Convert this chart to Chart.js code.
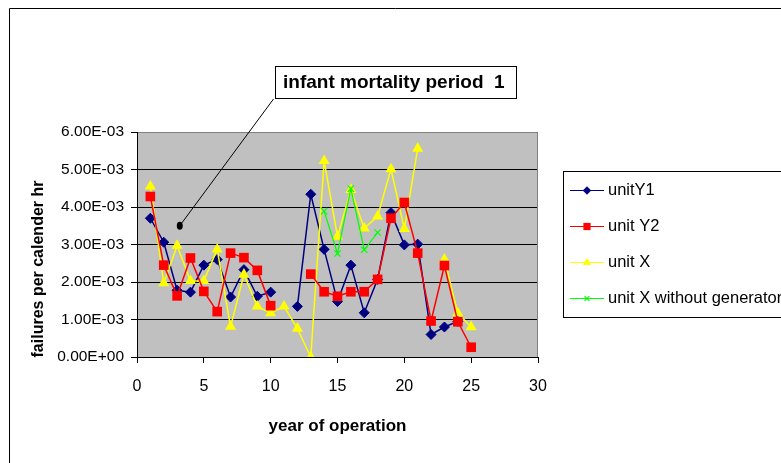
<!DOCTYPE html>
<html>
<head>
<meta charset="utf-8">
<title>Failures per calendar hour by year of operation</title>
<script src="https://cdn.jsdelivr.net/npm/chart.js@4.4.1/dist/chart.umd.min.js"></script>
<style>
  html, body { margin: 0; padding: 0; background: #ffffff; }
  #wrap { width: 781px; height: 463px; position: relative; }
</style>
</head>
<body>
<div id="wrap"><canvas id="c" width="781" height="463"></canvas></div>
<script>
// Year of operation
const years = [1, 2, 3, 4, 5, 6, 7, 8, 9, 10, 11, 12, 13, 14, 15, 16, 17, 18, 19, 20, 21, 22, 23, 24, 25];

// Failures per calendar hour for each unit (null = no record that year)
const unitY1 = [3.70e-3, 3.06e-3, 1.78e-3, 1.73e-3, 2.45e-3, 2.60e-3, 1.60e-3, 2.33e-3, 1.62e-3, 1.73e-3,
                null, 1.35e-3, 4.34e-3, 2.87e-3, 1.48e-3, 2.45e-3, 1.18e-3, 2.07e-3, 3.85e-3, 2.99e-3,
                3.01e-3, 0.60e-3, 0.80e-3, 0.95e-3, null];
const unitY2 = [4.28e-3, 2.45e-3, 1.63e-3, 2.64e-3, 1.75e-3, 1.21e-3, 2.77e-3, 2.65e-3, 2.31e-3, 1.37e-3,
                null, null, 2.21e-3, 1.74e-3, 1.62e-3, 1.74e-3, 1.74e-3, 2.07e-3, 3.70e-3, 4.12e-3,
                2.77e-3, 0.96e-3, 2.44e-3, 0.94e-3, 0.26e-3];
const unitX = [4.55e-3, 1.97e-3, 2.97e-3, 2.03e-3, 2.03e-3, 2.87e-3, 0.81e-3, 2.20e-3, 1.35e-3, 1.17e-3,
               1.35e-3, 0.76e-3, 0.00, 5.23e-3, 3.21e-3, 4.46e-3, 3.43e-3, 3.75e-3, 5.01e-3, 3.42e-3,
               5.56e-3, null, 2.60e-3, 1.17e-3, 0.80e-3];
const unitXNoGen = [null, null, null, null, null, null, null, null, null, null,
                    null, null, null, 3.89e-3, 2.76e-3, 4.49e-3, 2.86e-3, 3.32e-3, null, null,
                    null, null, null, null, null];

// Axis ticks
const xTicks = [0, 5, 10, 15, 20, 25, 30];
const yTicks = [0, 1e-3, 2e-3, 3e-3, 4e-3, 5e-3, 6e-3];

// Callout pointing at the early-life failure region
const calloutText = 'infant mortality period  1';
const calloutPoint = { x: 3.2, y: 3.5e-3 };

const FONT = '"Liberation Sans", Arial, Helvetica, sans-serif';

function sci(v) {
  if (Math.abs(v) < 1e-12) return '0.00E+00';
  const e = Math.floor(Math.log10(Math.abs(v)) + 1e-9);
  const m = v / Math.pow(10, e);
  return m.toFixed(2) + 'E' + (e < 0 ? '-' : '+') + String(Math.abs(e)).padStart(2, '0');
}

function pts(arr) {
  return years.map((yr, i) => ({ x: yr, y: arr[i] }));
}

const datasets = [
  { label: 'unitY1', data: pts(unitY1), borderColor: '#000080', backgroundColor: '#000080',
    pointStyle: 'rectRot', pointRadius: 5, borderWidth: 1.5, pointBorderWidth: 1, order: 3 },
  { label: 'unit Y2', data: pts(unitY2), borderColor: '#ff0000', backgroundColor: '#ff0000',
    pointStyle: 'rect', pointRadius: 6.8, borderWidth: 1.5, pointBorderWidth: 0, order: 1 },
  { label: 'unit X', data: pts(unitX), borderColor: '#ffff00', backgroundColor: '#ffff00',
    pointStyle: 'triangle', pointRadius: 6.4, borderWidth: 1.5, pointBorderWidth: 0, order: 2 },
  { label: 'unit X without generator', data: pts(unitXNoGen), borderColor: '#00ff00', backgroundColor: '#00ff00',
    pointStyle: 'crossRot', pointRadius: 4.5, borderWidth: 1.2, pointBorderWidth: 1.2, order: 0 }
];

// Frame, plot-area fill, titles, callout and legend
const decor = {
  id: 'decor',
  beforeDraw(chart) {
    const ctx = chart.ctx, a = chart.chartArea;
    ctx.save();
    ctx.fillStyle = '#ffffff';
    ctx.fillRect(0, 0, chart.width, chart.height);
    // outer frame
    ctx.strokeStyle = '#000000';
    ctx.lineWidth = 1;
    ctx.beginPath();
    ctx.moveTo(9.5, chart.height + 1);
    ctx.lineTo(9.5, 8.5);
    ctx.lineTo(chart.width + 1, 8.5);
    ctx.stroke();
    // plot area
    ctx.fillStyle = '#c0c0c0';
    ctx.fillRect(a.left, a.top, a.right - a.left, a.bottom - a.top);
    ctx.restore();
  },
  beforeDatasetsDraw(chart) {
    const ctx = chart.ctx, a = chart.chartArea;
    ctx.save();
    ctx.strokeStyle = '#808080';
    ctx.lineWidth = 1;
    ctx.beginPath();
    ctx.moveTo(Math.round(a.right) - 0.5, a.top);
    ctx.lineTo(Math.round(a.right) - 0.5, a.bottom);
    ctx.stroke();
    ctx.restore();
  },
  afterDraw(chart) {
    const ctx = chart.ctx, a = chart.chartArea;
    const xs = chart.scales.x, ys = chart.scales.y;
    ctx.save();
    ctx.fillStyle = '#000000';

    // axis titles
    ctx.font = 'bold 17px ' + FONT;
    ctx.textAlign = 'center';
    ctx.textBaseline = 'alphabetic';
    ctx.fillText('year of operation', (a.left + a.right) / 2, 431);

    ctx.save();
    ctx.translate(43, 269);
    ctx.rotate(-Math.PI / 2);
    ctx.font = 'bold 16px ' + FONT;
    ctx.fillText('failures per calender hr', 0, 0);
    ctx.restore();

    // callout
    const px = xs.getPixelForValue(calloutPoint.x);
    const py = ys.getPixelForValue(calloutPoint.y);
    ctx.strokeStyle = '#000000';
    ctx.lineWidth = 1;
    ctx.beginPath();
    ctx.moveTo(273.5, 99);
    ctx.lineTo(px, py);
    ctx.stroke();
    ctx.beginPath();
    ctx.ellipse(px, py, 3, 4, 0, 0, Math.PI * 2);
    ctx.fill();

    ctx.fillStyle = '#ffffff';
    ctx.fillRect(275.5, 66.5, 241, 32);
    ctx.strokeRect(275.5, 66.5, 241, 32);
    ctx.fillStyle = '#000000';
    ctx.font = 'bold 19px ' + FONT;
    ctx.textAlign = 'left';
    ctx.fillText(calloutText, 283, 88);

    // legend
    ctx.fillStyle = '#ffffff';
    ctx.fillRect(563.5, 171.5, 240, 146);
    ctx.strokeRect(563.5, 171.5, 240, 146);
    ctx.font = '16.5px ' + FONT;
    ctx.textBaseline = 'middle';
    chart.data.datasets.forEach((ds, i) => {
      const y = 190 + i * 36;
      ctx.strokeStyle = ds.borderColor;
      ctx.lineWidth = 1.2;
      ctx.beginPath();
      ctx.moveTo(570, y + 0.5);
      ctx.lineTo(604, y + 0.5);
      ctx.stroke();
      ctx.fillStyle = ds.backgroundColor;
      ctx.strokeStyle = ds.borderColor;
      ctx.lineWidth = ds.pointBorderWidth || 1;
      Chart.helpers.drawPoint(ctx, {
        pointStyle: ds.pointStyle,
        radius: ds.pointRadius * 0.75,
        rotation: 0,
        borderWidth: ds.pointBorderWidth
      }, 587, y + 0.5);
      ctx.fillStyle = '#000000';
      ctx.fillText(ds.label, 608, y);
    });
    ctx.restore();
  }
};

new Chart(document.getElementById('c'), {
  type: 'line',
  data: { datasets },
  options: {
    responsive: false,
    animation: false,
    events: [],
    spanGaps: false,
    layout: { padding: { top: 132, right: 243, bottom: 0, left: 0 } },
    plugins: { legend: { display: false }, tooltip: { enabled: false } },
    elements: { line: { tension: 0, fill: false } },
    scales: {
      x: {
        type: 'linear',
        min: 0, max: 30,
        afterBuildTicks: s => { s.ticks = xTicks.map(v => ({ value: v })); },
        afterFit: s => { s.height = 106; },
        ticks: { color: '#000000', font: { family: FONT, size: 16 }, padding: 14, maxRotation: 0 },
        grid: { drawOnChartArea: false, drawTicks: true, tickLength: 6, tickColor: '#000000', tickWidth: 1 },
        border: { color: '#000000', width: 1 }
      },
      y: {
        type: 'linear',
        min: 0, max: 6e-3,
        afterBuildTicks: s => { s.ticks = yTicks.map(v => ({ value: v })); },
        afterFit: s => { s.width = 137; },
        ticks: { color: '#000000', font: { family: FONT, size: 15.5 }, padding: 7, callback: v => sci(v) },
        grid: {
          color: c => (c.tick && Math.abs(c.tick.value - 6e-3) < 1e-9) ? '#808080' : '#000000',
          lineWidth: 1, drawTicks: true, tickLength: 6, tickColor: '#000000', tickWidth: 1
        },
        border: { color: '#000000', width: 1 }
      }
    }
  },
  plugins: [decor]
});
</script>
</body>
</html>
